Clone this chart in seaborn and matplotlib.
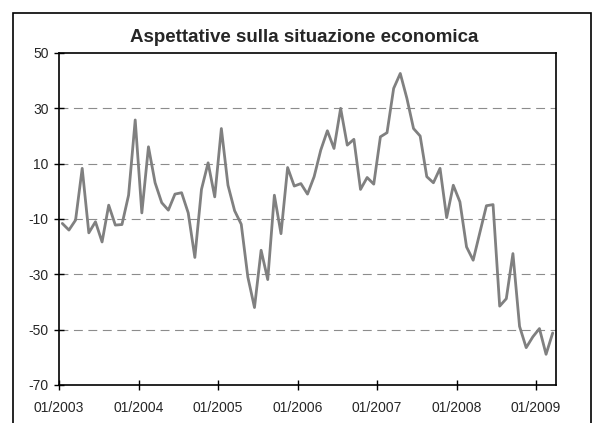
import numpy as np
import pandas as pd
import matplotlib
matplotlib.use("Agg")
import matplotlib.pyplot as plt
import seaborn as sns
from matplotlib.patches import Rectangle

# ============================================
# Data (monthly, 01/2003 - 03/2009)
# ============================================
TITLE = "Aspettative sulla situazione economica"
VALUES = [
    -11.6, -14.0, -10.4, 8.3, -15.0, -11.0, -18.3, -5.0, -12.2, -12.0, -1.4, 25.8,   # 2003
    -7.8, 16.1, 3.1, -4.1, -6.8, -1.0, -0.5, -7.8, -23.9, 0.7, 10.3, -2.0,          # 2004
    22.7, 2.2, -7.0, -11.9, -31.0, -42.0, -21.3, -31.9, -1.4, -15.3, 8.6, 1.9,       # 2005
    2.8, -1.0, 5.3, 14.9, 21.9, 15.5, 30.0, 16.7, 18.8, 0.7, 5.0, 2.6,              # 2006
    19.7, 21.2, 37.2, 42.6, 33.6, 22.7, 20.0, 5.3, 3.1, 8.3, -9.5, 2.2,             # 2007
    -3.8, -20.1, -24.9, -15.0, -5.2, -4.8, -41.5, -38.8, -22.5, -48.8, -56.5, -52.6, # 2008
    -49.6, -58.9, -51.2,                                                            # 2009
]
YEAR_LABELS = ["01/2003", "01/2004", "01/2005", "01/2006", "01/2007", "01/2008", "01/2009"]
Y_TICKS = [-70, -50, -30, -10, 10, 30, 50]

df = pd.DataFrame({"month": np.arange(len(VALUES)), "value": VALUES})

# ============================================
# Plot
# ============================================
sns.set_theme(style="white")
plt.rcParams["font.family"] = ["Liberation Sans", "DejaVu Sans"]

fig = plt.figure(figsize=(6.0, 4.23), dpi=100)
ax = fig.add_axes([59 / 600, 1 - 385 / 423, (556 - 59) / 600, (385 - 53) / 423])

# outer chart border (bottom edge runs off the canvas)
fig.patches.append(Rectangle((12.5 / 600, -0.05), (591 - 12.5) / 600, 1.05 - 13.5 / 423,
                             transform=fig.transFigure, fill=False,
                             edgecolor="black", linewidth=1.2))

for y in Y_TICKS[1:-1]:
    ax.axhline(y, color="#8c8c8c", linestyle=(0, (8, 5)), linewidth=0.8, zorder=0)

sns.lineplot(data=df, x="month", y="value", ax=ax, color="#808080", linewidth=2.0)

ax.set_xlim(-0.5, len(VALUES) - 0.5)
ax.set_ylim(-70, 50)
ax.set_xticks(np.arange(len(YEAR_LABELS)) * 12 - 0.5)
ax.set_xticklabels(YEAR_LABELS, fontsize=10)
ax.set_yticks(Y_TICKS)
ax.set_yticklabels([str(v) for v in Y_TICKS], fontsize=10)
ax.set_xlabel("")
ax.set_ylabel("")
ax.tick_params(axis="both", direction="inout", length=7, width=1, color="black",
               bottom=True, left=True)
ax.tick_params(axis="x", pad=8)
ax.tick_params(axis="y", pad=4)
for s in ax.spines.values():
    s.set_color("black")
    s.set_linewidth(1.2)

fig.text(304 / 600, 1 - 38 / 423, TITLE, ha="center", va="center",
         fontsize=13.5, fontweight="bold")

fig.savefig("out.png", dpi=100)
plt.close(fig)
